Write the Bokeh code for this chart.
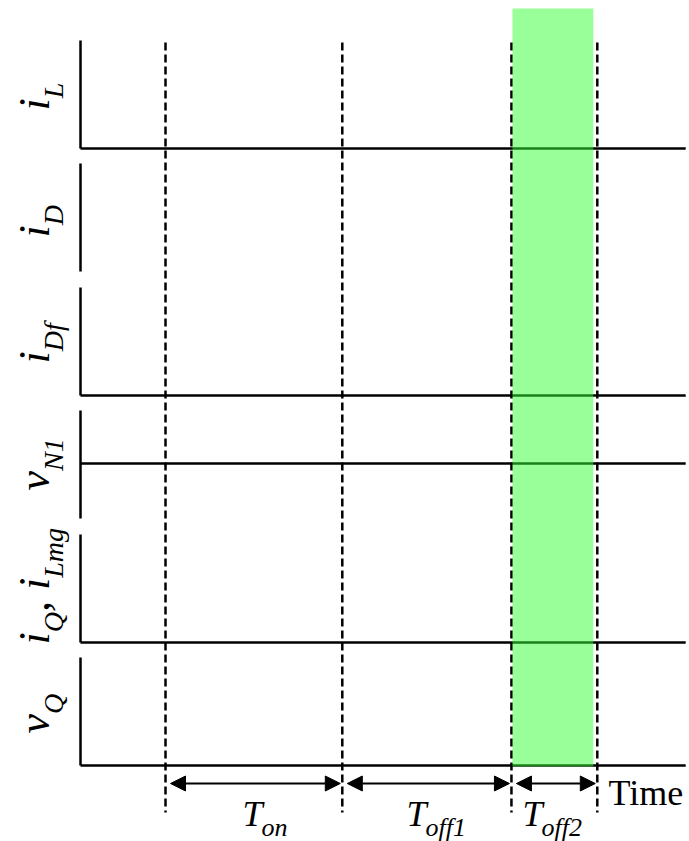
from math import pi

from bokeh.core.properties import value
from bokeh.embed import file_html
from bokeh.models import Arrow, NormalHead, Range1d
from bokeh.plotting import figure
from bokeh.resources import INLINE

# ---- timing data -----------------------------------------------------------
# switching instants on the time axis (time units) and the end of the axis
switch_times = [1.00, 3.08, 5.07, 6.08]
t_axis_end = 7.12

# interval names drawn under the arrows: (main text, subscript)
interval_main = ["T", "T", "T"]
interval_sub = ["on", "off1", "off2"]
shaded_interval = 2  # the T_off2 interval is highlighted

# waveform panels, top to bottom; each label is a list of (text, is_subscript)
panel_labels = [
    [("i", 0), ("L", 1)],
    [("i", 0), ("D", 1)],
    [("i", 0), ("Df", 1)],
    [("v", 0), ("N1", 1)],
    [("i", 0), ("Q", 1), (", ", 0), ("i", 0), ("Lmg", 1)],
    [("v", 0), ("Q", 1)],
]

# ---- layout (pixels from the top-left corner) ------------------------------
W, H = 689, 841
PX0, PXU = 80, 85          # time origin and pixels per time unit

# (axis top, axis bottom, zero-line row or None)
panel_rows = [
    (40, 148, 148),
    (163, 271, None),
    (287, 395, 395),
    (410, 518, 463),
    (534, 642, 642),
    (657, 765, 765),
]
label_start_row = [110, 237, 363, 490, 644, 733]
main_size, sub_size = 44, 28
label_main_col, label_sub_col = 46, 61      # glyph baselines of the rotated labels

interval_label_px = [242, 406, 522]
interval_main_row, interval_sub_row = 823, 834
arrow_row = 783

SERIF = value("Liberation Serif")
BASE_SHIFT = 0.27          # rendered baseline sits this many em below the anchor

# advance widths (em) of the italic serif face
EM = {"i": 0.278, "L": 0.556, "D": 0.722, "f": 0.278, "v": 0.444, "N": 0.667,
      "1": 0.5, "Q": 0.722, "m": 0.722, "g": 0.5, ",": 0.25, " ": 0.25,
      "T": 0.556, "o": 0.5, "n": 0.5, "2": 0.5}


def xd(px):
    return (px - PX0) / PXU


def yd(px):
    return H - px


def text_width(s, size):
    return sum(EM.get(c, 0.5) for c in s) * size


p = figure(width=W, height=H, x_range=Range1d(xd(0), xd(W)), y_range=Range1d(0, H),
           output_backend="svg", toolbar_location=None, min_border=0,
           x_axis_location=None, y_axis_location=None)
p.grid.visible = False
p.outline_line_color = None
p.background_fill_color = "white"
p.border_fill_color = "white"

# ---- panel axes and zero lines ---------------------------------------------
p.segment(x0=[0] * len(panel_rows), x1=[0] * len(panel_rows),
          y0=[yd(r[0]) for r in panel_rows], y1=[yd(r[1]) for r in panel_rows],
          line_color="black", line_width=2.5)
zero_rows = [r[2] for r in panel_rows if r[2] is not None]
p.segment(x0=[0] * len(zero_rows), x1=[t_axis_end] * len(zero_rows),
          y0=[yd(r) for r in zero_rows], y1=[yd(r) for r in zero_rows],
          line_color="black", line_width=2.5)

# ---- switching instants ----------------------------------------------------
p.segment(x0=switch_times, x1=switch_times,
          y0=[yd(42)] * len(switch_times), y1=[yd(812)] * len(switch_times),
          line_color="black", line_width=2.5, line_dash="8 4")

# ---- highlighted interval --------------------------------------------------
a, b = switch_times[shaded_interval], switch_times[shaded_interval + 1]
p.quad(left=[a + 1 / PXU], right=[b - 4 / PXU], bottom=[yd(766)], top=[yd(8)],
       fill_color="#33ff33", fill_alpha=0.5, line_color=None)

# ---- interval arrows and names ---------------------------------------------
for k in range(len(interval_sub)):
    t0, t1 = switch_times[k], switch_times[k + 1]
    p.add_layout(Arrow(
        x_start=t0 + 5 / PXU, x_end=t1 - 2 / PXU, y_start=yd(arrow_row), y_end=yd(arrow_row),
        line_color="black", line_width=2,
        start=NormalHead(size=15, fill_color="black", line_color="black", line_width=1),
        end=NormalHead(size=15, fill_color="black", line_color="black", line_width=1)))

main_x = [xd(px) for px in interval_label_px]
sub_x = [xd(px + text_width(m, 36) - 1) for px, m in zip(interval_label_px, interval_main)]
p.text(x=main_x, y=[yd(interval_main_row - BASE_SHIFT * 36)] * 3, text=interval_main,
       text_font=SERIF, text_font_style="italic", text_font_size="36px",
       text_baseline="alphabetic", text_align="left", text_color="black")
p.text(x=sub_x, y=[yd(interval_sub_row - BASE_SHIFT * 26)] * 3, text=interval_sub,
       text_font=SERIF, text_font_style="italic", text_font_size="26px",
       text_baseline="alphabetic", text_align="left", text_color="black")

p.text(x=[xd(608)], y=[yd(802 - BASE_SHIFT * 36)], text=["Time"], text_font=SERIF,
       text_font_size="36px", text_baseline="alphabetic", text_align="left",
       text_color="black")

# ---- rotated panel labels --------------------------------------------------
mx, my, mt, sx, sy, st = [], [], [], [], [], []
for segs, start in zip(panel_labels, label_start_row):
    y = yd(start)
    for s, is_sub in segs:
        if is_sub:
            sx.append(xd(label_sub_col - BASE_SHIFT * sub_size)); sy.append(y); st.append(s)
            y += text_width(s, sub_size)
        else:
            mx.append(xd(label_main_col - BASE_SHIFT * main_size)); my.append(y); mt.append(s)
            y += text_width(s, main_size)

p.text(x=mx, y=my, text=mt, angle=pi / 2, text_font=SERIF, text_font_style="italic",
       text_font_size=f"{main_size}px", text_baseline="alphabetic", text_align="left",
       text_color="black")
p.text(x=sx, y=sy, text=st, angle=pi / 2, text_font=SERIF, text_font_style="italic",
       text_font_size=f"{sub_size}px", text_baseline="alphabetic", text_align="left",
       text_color="black")

open("out.html", "w").write(file_html(p, INLINE))
